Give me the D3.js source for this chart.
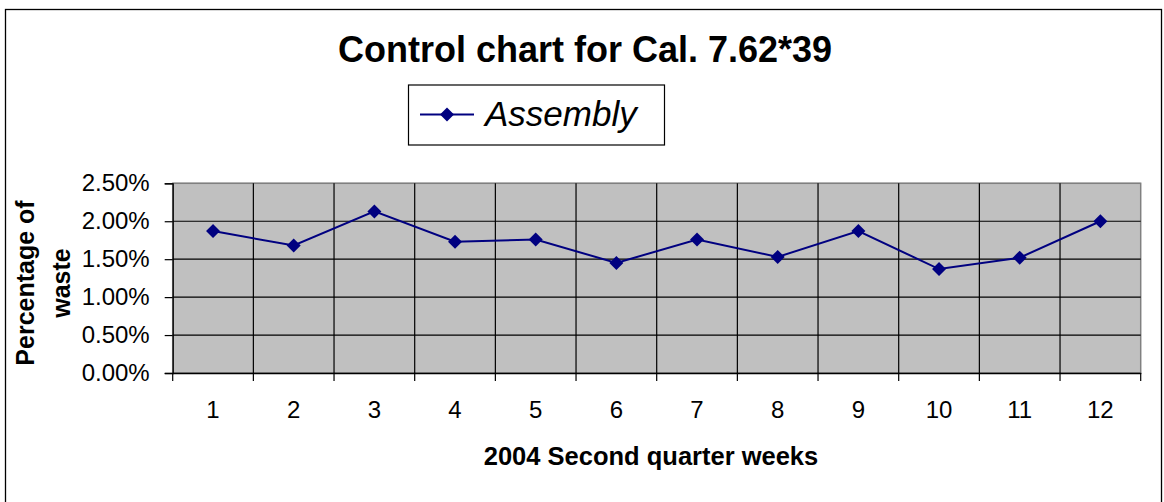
<!DOCTYPE html>
<html><head><meta charset="utf-8">
<script src="https://cdn.jsdelivr.net/npm/d3@7"></script>
<style>body{margin:0;background:#fff}svg{display:block;font-family:"Liberation Sans",Arial,sans-serif}</style>
</head><body><svg id="c" width="1164" height="502"></svg>
<script>
const weeks = ["1","2","3","4","5","6","7","8","9","10","11","12"];
const assembly = [0.0187,0.0168,0.0213,0.0173,0.0176,0.0145,0.0176,0.0153,0.0187,0.0137,0.0152,0.0200];
const yTicks = [0,0.005,0.01,0.015,0.02,0.025];
const title = "Control chart for Cal. 7.62*39";
const seriesName = "Assembly";
const xTitle = "2004 Second quarter weeks";
const yTitle = ["Percentage of","waste"];

const svg = d3.select("#c");
const L = 172.7, R = 1140.7, T = 183.3, B = 373;
svg.append("rect").attr("x",5.5).attr("y",9.5).attr("width",1156).attr("height",520)
  .attr("fill","#fff").attr("stroke","#000").attr("stroke-width",1.3);

const x = d3.scaleBand().domain(weeks).range([L,R]);
const y = d3.scaleLinear().domain([0,0.025]).range([B,T]);

svg.append("rect").attr("x",L).attr("y",T).attr("width",R-L).attr("height",B-T)
  .attr("fill","#C0C0C0").attr("stroke","#808080").attr("stroke-width",1.5);

svg.append("g").selectAll("line").data(yTicks.filter(d=>d>0)).join("line")
  .attr("x1",L).attr("x2",R).attr("y1",d=>y(d)).attr("y2",d=>y(d))
  .attr("stroke",d=>d===0.025?"#808080":"#000").attr("stroke-width",1.2);
const bounds = weeks.slice(1).map(w=>x(w));
svg.append("g").selectAll("line").data(bounds).join("line")
  .attr("x1",d=>d).attr("x2",d=>d).attr("y1",T).attr("y2",B)
  .attr("stroke","#000").attr("stroke-width",1.2);

const yAxis = d3.axisLeft(y).tickValues(yTicks).tickFormat(d3.format(".2%")).tickSize(8).tickPadding(15);
const gy = svg.append("g").attr("transform",`translate(${L},0)`).call(yAxis);
gy.select(".domain").attr("stroke","#000").attr("stroke-width",1.3);
gy.selectAll(".tick line").attr("stroke","#000").attr("stroke-width",1.2);
gy.selectAll(".tick text").attr("font-size",24).attr("fill","#000").attr("font-family","Liberation Sans, Arial, sans-serif");

const xAxis = d3.axisBottom(x).tickSize(0).tickPadding(28);
const gx = svg.append("g").attr("transform",`translate(0,${B})`).call(xAxis);
gx.select(".domain").attr("stroke","#000").attr("stroke-width",1.3);
gx.selectAll(".tick text").attr("font-size",24).attr("fill","#000").attr("font-family","Liberation Sans, Arial, sans-serif");
svg.append("g").selectAll("line").data([L,...bounds,R]).join("line")
  .attr("x1",d=>d).attr("x2",d=>d).attr("y1",B).attr("y2",B+8)
  .attr("stroke","#000").attr("stroke-width",1.2);

const cx = d=>x(d)+x.bandwidth()/2;
const line = d3.line().x((d,i)=>cx(weeks[i])).y(d=>y(d));
svg.append("path").datum(assembly).attr("d",line).attr("fill","none")
  .attr("stroke","#000080").attr("stroke-width",2);
const diamond = s=>`M0,${-s}L${s},0L0,${s}L${-s},0Z`;
svg.append("g").selectAll("path").data(assembly).join("path")
  .attr("transform",(d,i)=>`translate(${cx(weeks[i])},${y(d)})`)
  .attr("d",diamond(7)).attr("fill","#000080");

svg.append("text").attr("x",585).attr("y",62).attr("text-anchor","middle")
  .attr("font-size",36).attr("font-weight","bold").text(title);

svg.append("rect").attr("x",408.5).attr("y",85).attr("width",256).attr("height",60)
  .attr("fill","#fff").attr("stroke","#000").attr("stroke-width",1.2);
svg.append("line").attr("x1",420).attr("x2",474).attr("y1",114.5).attr("y2",114.5)
  .attr("stroke","#000080").attr("stroke-width",2);
svg.append("path").attr("transform","translate(447,114.5)").attr("d",diamond(7)).attr("fill","#000080");
svg.append("text").attr("x",485).attr("y",126).attr("font-size",35).attr("font-style","italic").text(seriesName);

svg.append("text").attr("x",651).attr("y",465).attr("text-anchor","middle")
  .attr("font-size",25.5).attr("font-weight","bold").text(xTitle);
const yt = svg.append("text").attr("transform","translate(0,283) rotate(-90)")
  .attr("text-anchor","middle").attr("font-size",25).attr("font-weight","bold");
yt.append("tspan").attr("x",0).attr("y",34).text(yTitle[0]);
yt.append("tspan").attr("x",0).attr("y",70).text(yTitle[1]);
</script></body></html>
